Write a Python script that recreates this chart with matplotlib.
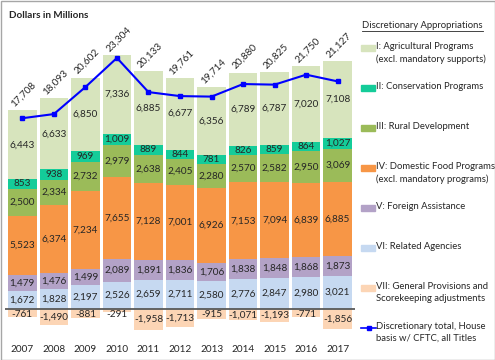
import matplotlib.pyplot as plt
import numpy as np
from matplotlib.patches import Rectangle
from matplotlib.lines import Line2D

years = ['2007', '2008', '2009', '2010', '2011', '2012', '2013', '2014', '2015', '2016', '2017']
related = [1672, 1828, 2197, 2526, 2659, 2711, 2580, 2776, 2847, 2980, 3021]
foreign = [1479, 1476, 1499, 2089, 1891, 1836, 1706, 1838, 1848, 1868, 1873]
food = [5523, 6374, 7234, 7655, 7128, 7001, 6926, 7153, 7094, 6839, 6885]
rural = [2500, 2334, 2732, 2979, 2638, 2405, 2280, 2570, 2582, 2950, 3069]
conserv = [853, 938, 969, 1009, 889, 844, 781, 826, 859, 864, 1027]
agri = [6443, 6633, 6850, 7336, 6885, 6677, 6356, 6789, 6787, 7020, 7108]
general = [-761, -1490, -881, -291, -1958, -1713, -915, -1071, -1193, -771, -1856]
total = [17708, 18093, 20602, 23304, 20133, 19761, 19714, 20880, 20825, 21750, 21127]

plt.rcParams['font.family'] = ['Lato', 'DejaVu Sans']
W, H = 495, 360
fig = plt.figure(figsize=(W / 100, H / 100), dpi=100)
ax = fig.add_axes([5 / W, 25.2 / H, 350 / W, 305.9 / H])

txt = '#262626'
fs = 7.2
x = np.arange(len(years))
wid = 0.9
stack = [(related, '#C6D9F1'), (foreign, '#B3A2C7'), (food, '#F79646'),
         (rural, '#9BBB59'), (conserv, '#14CC99'), (agri, '#D7E4BD')]
bottom = np.zeros(len(years))
for vals, col in stack:
    v = np.array(vals)
    ax.bar(x, v, wid, bottom=bottom, color=col)
    for i in range(len(x)):
        ax.text(x[i], bottom[i] + v[i] / 2, f'{v[i]:,}', ha='center', va='center',
                fontsize=fs, color=txt)
    bottom += v

g = np.array(general)
ax.bar(x, g, wid, color='#FCD5B5')
for i in range(len(x)):
    ax.text(x[i], min(g[i] / 2, -520), f'{g[i]:,}', ha='center', va='center',
            fontsize=fs, color=txt)

ax.axhline(0, color='#595959', lw=1.3)
ax.plot(x, total, color='#0000FF', lw=1.5, marker='s', ms=3)
for i in range(len(x)):
    ax.text(x[i] + 0.05, bottom[i] + 150, f'{total[i]:,}', ha='center', va='bottom',
            rotation=45, fontsize=fs, color=txt)

ax.set_xlim(-0.55, 10.55)
ax.set_ylim(-2400, 26000)
ax.set_yticks([])
ax.set_xticks(x)
ax.set_xticklabels(years, fontsize=fs, color=txt)
ax.tick_params(axis='x', length=0, pad=7)
for s in ax.spines.values():
    s.set_visible(False)

fig.text(9 / W, 1 - 15 / H, 'Dollars in Millions', fontsize=7.2, fontweight='bold',
         color=txt, va='center')

# legend, drawn by hand
lfs = 6.8
ttl = fig.text(362 / W, 1 - 26 / H, 'Discretionary Appropriations', fontsize=lfs,
               color=txt, va='center')
fig.canvas.draw()
bb = ttl.get_window_extent()
fig.add_artist(Line2D([bb.x0 / W, bb.x1 / W], [(bb.y0 - 0.5) / H] * 2, color=txt, lw=0.6))

labels = ['I: Agricultural Programs\n(excl. mandatory supports)', 'II: Conservation Programs',
          'III: Rural Development', 'IV: Domestic Food Programs\n(excl. mandatory programs)',
          'V: Foreign Assistance', 'VI: Related Agencies',
          'VII: General Provisions and\nScorekeeping adjustments']
cols = ['#D7E4BD', '#14CC99', '#9BBB59', '#F79646', '#B3A2C7', '#C6D9F1', '#FCD5B5']
for k, (lab, col) in enumerate(zip(labels, cols)):
    yy = 48 + 40 * k
    fig.add_artist(Rectangle((361 / W, 1 - (yy + 3) / H), 14 / W, 6 / H, color=col))
    fig.text(376 / W, 1 - (yy - 6) / H, lab, fontsize=lfs, color=txt, va='top',
             linespacing=1.45)
yy = 48 + 40 * 7
fig.add_artist(Line2D([361 / W, 376 / W], [1 - yy / H] * 2, color='#0000FF', lw=1.2))
fig.add_artist(Line2D([368.5 / W], [1 - yy / H], color='#0000FF', marker='s', ms=3))
fig.text(376 / W, 1 - (yy - 6) / H, 'Discretionary total, House\nbasis w/ CFTC, all Titles',
         fontsize=lfs, color=txt, va='top', linespacing=1.45)

fig.add_artist(Rectangle((0.5 / W, 0.5 / H), (W - 1) / W, (H - 1) / H, fill=False,
                         edgecolor='#A6A6A6', lw=1))
fig.savefig('out.png', dpi=100)
